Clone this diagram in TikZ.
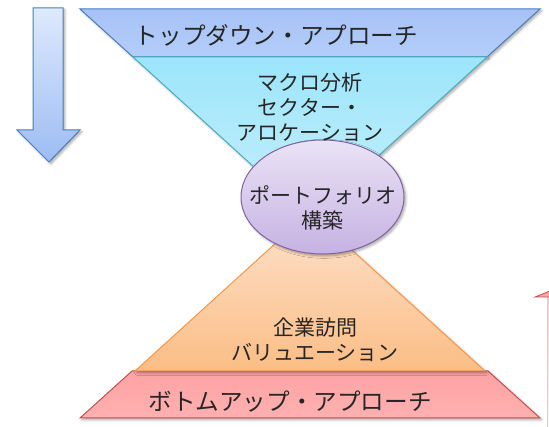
\documentclass[tikz,border=0pt]{standalone}
\usepackage{fontspec}
\newfontfamily\jp{Noto Sans CJK JP}
\usetikzlibrary{shapes.geometric,shadows.blur}
\definecolor{blueA}{HTML}{A6C2F6}
\definecolor{blueB}{HTML}{B4CEFA}
\definecolor{blueL}{HTML}{4A7EBB}
\definecolor{cyanA}{HTML}{9CE5FB}
\definecolor{cyanB}{HTML}{C6F0FC}
\definecolor{cyanL}{HTML}{4BACC6}
\definecolor{purA}{HTML}{EAE3F5}
\definecolor{purB}{HTML}{C6B2E3}
\definecolor{purL}{HTML}{8064A2}
\definecolor{orA}{HTML}{FDE3CE}
\definecolor{orB}{HTML}{FBBD85}
\definecolor{orL}{HTML}{F79646}
\definecolor{redA}{HTML}{FCA3A5}
\definecolor{redB}{HTML}{FFB0B0}
\definecolor{redL}{HTML}{C0504D}
\definecolor{arA}{HTML}{DEE9FC}
\definecolor{arB}{HTML}{9DBCF3}
\tikzset{
  shd/.style={blur shadow={shadow xshift=1.8pt, shadow yshift=-1.8pt, shadow blur radius=2.5pt, shadow blur steps=6, shadow opacity=35}},
  band/.style={font=\jp\fontsize{23.6}{28}\selectfont, inner sep=0pt, text=black!85},
  inner/.style={font=\jp\fontsize{21}{25}\selectfont, inner sep=0pt, align=center, text=black!85},
}
\begin{document}
\begin{tikzpicture}[x=1pt,y=-1pt,line join=miter]
\useasboundingbox (0,0) rectangle (549,427);
\begin{scope}
\clip (0,0) rectangle (549,427);
% left down arrow
\path[shd, top color=arA, bottom color=arB, draw=blueL, line width=1pt]
  (33,8) -- (63,8) -- (63,130) -- (80,130) -- (49,162) -- (17,130) -- (33,130) -- cycle;
% right up arrow (partly outside)
\fill[redA] (547,297) -- (547,440) -- (610,440) -- cycle;
\path[top color=redB!70!white, bottom color=white]
  (547,440) -- (547,297) -- (610,297) -- (610,440) -- cycle;
\draw[black!18, line width=0.8pt] (547,297) -- (547,440);
\path[fill=redA, draw=redL, line width=0.8pt]
  (547,297) -- (535,297) -- (600,271) -- (620,297) -- cycle;
% top funnel
\path[shd, top color=blueA, bottom color=blueB, draw=blueL, line width=1pt]
  (80,9) -- (540,9) -- (487,57) -- (133,57) -- cycle;
\path[shd, top color=cyanA, bottom color=cyanB, draw=cyanL, line width=1pt]
  (133,57) -- (487,57) -- (310,218) -- cycle;
% bottom pyramid
\path[shd, top color=redA, bottom color=redB, draw=redL, line width=1pt]
  (132,371) -- (488,371) -- (540,418) -- (80,418) -- cycle;
\path[shd, top color=orA, bottom color=orB, draw=orL, line width=1pt]
  (310,212) -- (485,371) -- (135,371) -- cycle;
% ellipse
\node[shd, ellipse, draw=purL, line width=1pt, top color=purA, bottom color=purB,
  minimum width=163pt, minimum height=114pt, inner sep=0pt] (pfe) at (322.5,197) {};
\end{scope}
% texts
\node[band] (td) at (276.5,35) {トップダウン・アプローチ};
\node[inner] (macro) at (310,107) {マクロ分析\\セクター・\\アロケーション};
\node[inner] (pf) at (322.5,208) {ポートフォリオ\\構築};
\node[inner] (kigyo) at (315,339.5) {企業訪問\\バリュエーション};
\node[band] (bu) at (290,402) {ボトムアップ・アプローチ};
\end{tikzpicture}
\end{document}
